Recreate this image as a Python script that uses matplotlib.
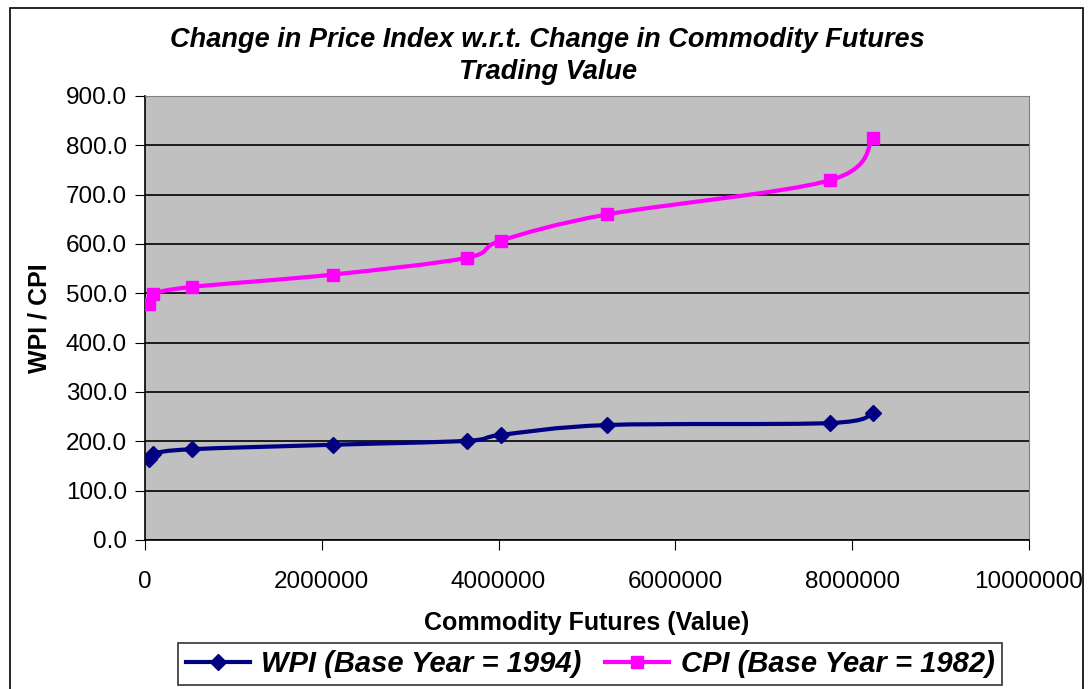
import numpy as np
import matplotlib.pyplot as plt
from matplotlib.path import Path
from matplotlib.patches import PathPatch, Rectangle
from matplotlib.lines import Line2D

# data
futures = [45000, 90000, 532000, 2127000, 3640000, 4030000, 5230000, 7745000, 8235000]
wpi = [164, 175, 184, 193, 201, 213, 233, 237, 257]
cpi = [479, 498, 513, 538, 572, 607, 660, 729, 814]

plt.rcParams['font.family'] = ['Liberation Sans', 'DejaVu Sans']

fig = plt.figure(figsize=(10.89, 6.89), dpi=100)
ax = fig.add_axes([0.1331, 0.2163, 0.8118, 0.6444])
ax.set_facecolor('#c0c0c0')


def smooth_path(xs, ys):
    # Excel-style smoothed line: cubic bezier through the points
    pts = np.column_stack([xs, ys]).astype(float)
    n = len(pts)
    verts = [pts[0]]
    codes = [Path.MOVETO]
    for i in range(n - 1):
        p0 = pts[i - 1] if i > 0 else pts[i]
        p1 = pts[i]
        p2 = pts[i + 1]
        p3 = pts[i + 2] if i + 2 < n else pts[i + 1]
        c1 = p1 + (p2 - p0) / 6.0
        c2 = p2 - (p3 - p1) / 6.0
        verts += [c1, c2, p2]
        codes += [Path.CURVE4] * 3
    return Path(verts, codes)


for ys, col, mk, ms in [(wpi, '#000080', 'D', 8), (cpi, '#ff00ff', 's', 9)]:
    ax.add_patch(PathPatch(smooth_path(futures, ys), facecolor='none',
                           edgecolor=col, lw=3, zorder=3))
    ax.plot(futures, ys, ls='none', marker=mk, color=col, ms=ms, zorder=4)

ax.set_xlim(0, 10000000)
ax.set_ylim(0, 900)
ax.set_xticks(np.arange(0, 10000001, 2000000))
ax.set_xticklabels(['0', '2000000', '4000000', '6000000', '8000000', '10000000'])
ax.set_yticks(np.arange(0, 901, 100))
ax.set_yticklabels(['%.1f' % v for v in np.arange(0, 901, 100)])
ax.yaxis.grid(True, color='black', lw=1.2)
ax.set_axisbelow(True)
ax.tick_params(axis='both', labelsize=17.5, direction='out', length=7, color='black')
ax.tick_params(axis='x', pad=15)
ax.tick_params(axis='y', pad=6)
for s in ['top', 'right']:
    ax.spines[s].set_color('#808080')
for s in ['left', 'bottom']:
    ax.spines[s].set_color('black')
    ax.spines[s].set_linewidth(1.2)

ax.set_xlabel('Commodity Futures (Value)', fontsize=18, fontweight='bold', labelpad=13)
ax.set_ylabel('WPI / CPI', fontsize=18, fontweight='bold', labelpad=10)
fig.text(0.503, 0.919, 'Change in Price Index w.r.t. Change in Commodity Futures\nTrading Value',
         ha='center', va='center', fontsize=19.5, fontweight='bold', style='italic',
         linespacing=1.3)

handles = [Line2D([], [], color='#000080', lw=3, marker='D', ms=8),
           Line2D([], [], color='#ff00ff', lw=3, marker='s', ms=9)]
leg = fig.legend(handles, ['WPI (Base Year = 1994)', 'CPI (Base Year = 1982)'],
                 loc='center', bbox_to_anchor=(0.542, 0.036), ncol=2, frameon=True,
                 fancybox=False, edgecolor='black', handlelength=2.2, columnspacing=0.8,
                 prop={'size': 21, 'weight': 'bold', 'style': 'italic'},
                 borderpad=0.25, handletextpad=0.4)
leg.get_frame().set_linewidth(1.2)

fig.patches.append(Rectangle((10 / 1089, -0.05), 1073 / 1089, 1.05 - 8 / 689,
                             transform=fig.transFigure, fill=False,
                             edgecolor='black', lw=1.2))

fig.savefig('out.png', dpi=100)
